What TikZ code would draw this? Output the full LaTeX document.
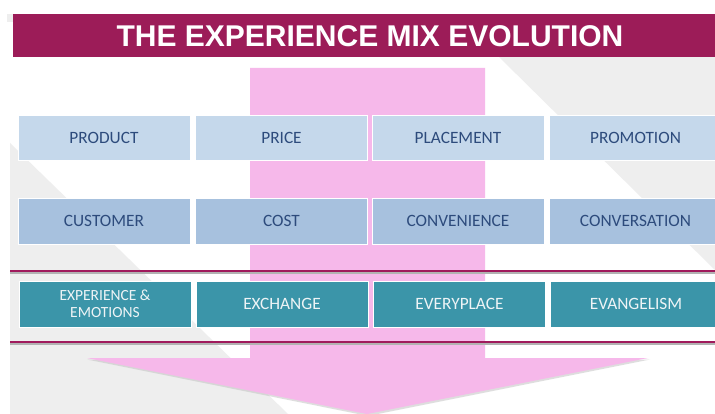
\documentclass[tikz,border=0pt]{standalone}
\usepackage{fontspec}
\newfontfamily\calib{Carlito}
\newfontfamily\arialf{Liberation Sans}
\definecolor{titlebg}{HTML}{9C1C58}
\definecolor{rowA}{HTML}{C5D8EB}
\definecolor{rowB}{HTML}{A7C1DE}
\definecolor{rowC}{HTML}{3B95A9}
\definecolor{txtblue}{HTML}{2D4B7C}
\definecolor{txtlight}{HTML}{EEF4F6}
\definecolor{pinkc}{HTML}{F6B8EA}
\definecolor{grayc}{HTML}{EEEEEE}
\definecolor{magline}{HTML}{A01A5C}
\tikzset{
  box/.style={minimum width=172pt, minimum height=45pt, inner sep=0pt, draw=white, line width=0.8pt, font=\calib\fontsize{17.3}{18}\selectfont, align=center},
  boxA/.style={box, fill=rowA, text=txtblue},
  boxB/.style={box, fill=rowB, text=txtblue, minimum height=46pt},
  boxC/.style={box, fill=rowC, text=txtlight, minimum height=46pt},
  sepline/.style={magline, line width=2.4pt},
}
\begin{document}
\begin{tikzpicture}[x=1pt,y=-1pt]
\useasboundingbox[fill=white] (0,0) rectangle (715,414);
% gray background shapes
\fill[grayc] (7,14) rectangle (14,22);
\fill[grayc] (499,57) -- (715,57) -- (715,270) -- cycle;
\fill[grayc] (10,143) -- (288,414) -- (10,414) -- cycle;
% arrow shadow and arrow
\fill[black!25, opacity=0.5] (87,359.5) -- (650,359.5) -- (368,416) -- cycle;
\fill[pinkc] (250,68) -- (485,68) -- (485,358) -- (648,358) -- (367,414) -- (87,358) -- (250,358) -- cycle;
% separator lines
\coordinate (l1a) at (10,271); \coordinate (l1b) at (715,271);
\coordinate (l2a) at (10,342); \coordinate (l2b) at (715,342);
\draw[black!30, line width=2pt] ([yshift=-1.5pt]l1a) -- ([yshift=-1.5pt]l1b);
\draw[black!30, line width=2pt] ([yshift=-1.5pt]l2a) -- ([yshift=-1.5pt]l2b);
\draw[sepline] (l1a) -- (l1b);
\draw[sepline] (l2a) -- (l2b);
% title
\fill[titlebg] (13,14) rectangle (715,57);
\node[text=white, font=\arialf\bfseries\fontsize{30}{32}\selectfont, inner sep=0pt] (title) at (370,36) {THE EXPERIENCE MIX EVOLUTION};
% row 1
\node[boxA] (product) at (104,137.5) {PRODUCT};
\node[boxA] (price) at (281.5,137.5) {PRICE};
\node[boxA] (placement) at (458,137.5) {PLACEMENT};
\node[boxA] (promotion) at (635.5,137.5) {PROMOTION};
% row 2
\node[boxB] (customer) at (104,221) {CUSTOMER};
\node[boxB] (cost) at (281.5,221) {COST};
\node[boxB] (convenience) at (458,221) {CONVENIENCE};
\node[boxB] (conversation) at (635.5,221) {CONVERSATION};
% row 3
\node[boxC, font=\calib\fontsize{15.5}{17}\selectfont] (experience) at (105,304) {EXPERIENCE \&\\EMOTIONS};
\node[boxC] (exchange) at (282,304) {EXCHANGE};
\node[boxC] (everyplace) at (459.5,304) {EVERYPLACE};
\node[boxC] (evangelism) at (636,304) {EVANGELISM};
\end{tikzpicture}
\end{document}
